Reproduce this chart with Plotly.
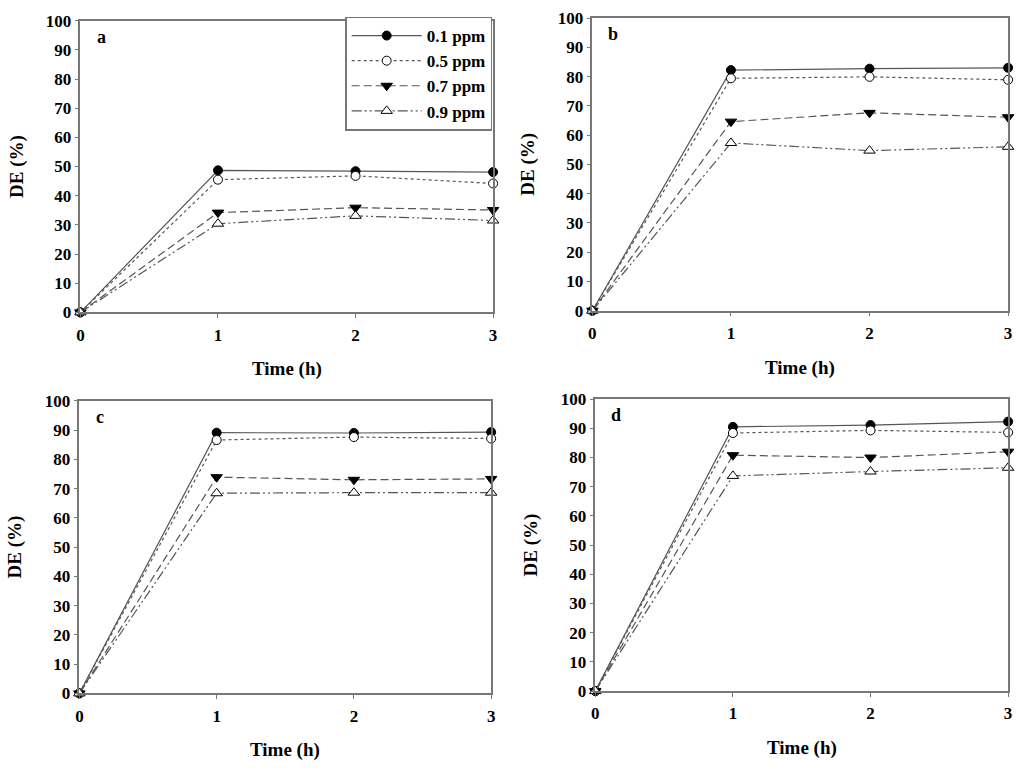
import plotly.graph_objects as go
from plotly.subplots import make_subplots

# time points (h)
time_h = [0, 1, 2, 3]
doses = ["0.1 ppm", "0.5 ppm", "0.7 ppm", "0.9 ppm"]
panel_labels = ["a", "b", "c", "d"]

# DE (%), one list per dose
de_a = [[0, 48.7, 48.4, 48.1], [0, 45.5, 46.8, 44.2], [0, 34.2, 35.9, 35.1], [0, 30.4, 33.1, 31.5]]
de_b = [[0, 82.2, 82.7, 83.0], [0, 79.4, 79.9, 78.9], [0, 64.6, 67.6, 66.1], [0, 57.3, 54.7, 56.0]]
de_c = [[0, 89.1, 89.0, 89.3], [0, 86.6, 87.6, 87.1], [0, 73.9, 73.0, 73.3], [0, 68.4, 68.6, 68.6]]
de_d = [[0, 90.5, 91.1, 92.3], [0, 88.4, 89.3, 88.6], [0, 80.8, 80.0, 82.0], [0, 73.7, 75.2, 76.5]]
panels = [de_a, de_b, de_c, de_d]

# styling per dose: dash, marker symbol, marker fill
dashes = ["solid", "dot", "8px,4px", "10px,3px,2px,3px,2px,3px"]
symbols = ["circle", "circle", "triangle-down", "triangle-up"]
fills = ["black", "white", "black", "white"]

FONT = "Liberation Serif"
LINE = "#555555"
FRAME = "#777777"

fig = make_subplots(rows=2, cols=2)

for p, data in enumerate(panels):
    r, c = p // 2 + 1, p % 2 + 1
    for k, vals in enumerate(data):
        fig.add_trace(go.Scatter(
            x=time_h, y=vals, mode="lines+markers", name=doses[k],
            legendgroup=doses[k], showlegend=(p == 0), cliponaxis=False,
            line=dict(color=LINE, width=1.2, dash=dashes[k]),
            marker=dict(symbol=symbols[k], size=9 if k < 2 else 10,
                        color=fills[k], line=dict(color="black", width=1)),
        ), row=r, col=c)

# subplot domains in paper fractions (matching the reference layout)
x_domains = [[0.0752, 0.4814], [0.5791, 0.9883], [0.0742, 0.4795], [0.582, 0.9883]]
y_domains = [[0.5966, 0.9844], [0.5988, 0.988], [0.0899, 0.479], [0.093, 0.4812]]

tick_font = dict(family=FONT, size=17, color="black", weight="bold")
title_font = dict(family=FONT, size=19, color="black", weight="bold")
for i in range(4):
    sfx = "" if i == 0 else str(i + 1)
    fig.layout["xaxis" + sfx].update(
        domain=x_domains[i], range=[0, 3], tickvals=time_h,
        showline=True, linecolor=FRAME, linewidth=1.5, mirror=True,
        ticks="outside", ticklen=4, tickcolor=FRAME, showgrid=False,
        zeroline=False, tickfont=tick_font, ticklabelstandoff=2,
    )
    fig.layout["yaxis" + sfx].update(
        domain=y_domains[i], range=[0, 100], tickvals=list(range(0, 101, 10)),
        showline=True, linecolor=FRAME, linewidth=1.5, mirror=True,
        ticks="outside", ticklen=4, tickcolor=FRAME, showgrid=False,
        zeroline=False, tickfont=tick_font,
    )
    xr = "x" + sfx + " domain"
    yr = "y" + sfx + " domain"
    # panel letter
    fig.add_annotation(x=0.05, y=0.945, xref=xr, yref=yr, text=panel_labels[i],
                       xanchor="center", yanchor="middle", showarrow=False,
                       font=dict(family=FONT, size=18, color="black", weight="bold"))
    # axis titles
    fig.add_annotation(x=0.5, y=0, xref=xr, yref=yr, yshift=-57, text="Time (h)",
                       xanchor="center", yanchor="middle", showarrow=False, font=title_font)
    fig.add_annotation(x=0, y=0.5, xref=xr, yref=yr, xshift=-64, text="DE (%)", textangle=-90,
                       xanchor="center", yanchor="middle", showarrow=False, font=title_font)

fig.update_layout(
    width=1024, height=771,
    margin=dict(l=0, r=0, t=0, b=0),
    paper_bgcolor="white", plot_bgcolor="white",
    showlegend=True,
    legend=dict(
        x=0.4805, y=0.99, xanchor="right", yanchor="top",
        bgcolor="white", bordercolor=FRAME, borderwidth=1.5,
        font=dict(family=FONT, size=17, color="black", weight="bold"),
        itemwidth=70, tracegroupgap=0,
    ),
)

# drop the browser's default body margin so the figure sits at the page origin
fig.write_html("out.html", config={"displayModeBar": False},
               post_script="document.body.style.margin='0';")
